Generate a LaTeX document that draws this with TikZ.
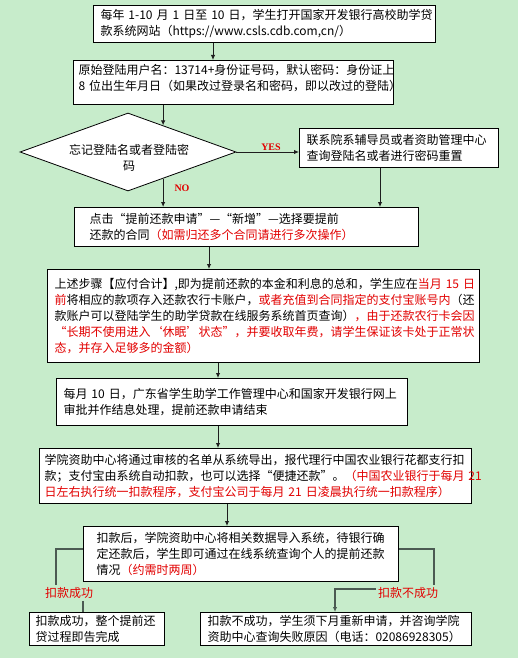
\documentclass[tikz,border=0pt]{standalone}
\usepackage{fontspec}
\setmainfont{Noto Sans CJK SC}
\newfontfamily\serifyes{Liberation Serif}
\usetikzlibrary{shapes.geometric,arrows.meta,calc}
\definecolor{bg}{RGB}{199,236,203}
\definecolor{rd}{RGB}{226,0,0}
\definecolor{lnA}{RGB}{30,30,30}
\definecolor{lnB}{RGB}{75,90,82}
\newcommand{\rt}[1]{\textcolor{rd}{#1}}
\begin{document}
\begin{tikzpicture}[x=1pt,y=-1pt,
  font=\fontsize{12}{16}\selectfont,
  box/.style={draw=black, line width=1pt, fill=white, anchor=north west, align=left, inner ysep=1pt},
  arr/.style={-{Latex[length=5pt,width=4.5pt]}, line width=0.9pt, draw=lnA},
  arrb/.style={-{Latex[length=5pt,width=4.5pt]}, line width=1.1pt, draw=lnB},
  cn/.style={line width=1.1pt, draw=lnB},
  lab/.style={text=rd, font=\fontsize{12}{14}\selectfont, inner sep=2pt},
  yn/.style={text=rd, font=\serifyes\bfseries\fontsize{10}{12}\selectfont, inner sep=1pt}]
\fill[bg] (0,0) rectangle (518,658);
\useasboundingbox (0,0) rectangle (518,658);

\node[box, minimum width=342pt, minimum height=37pt, inner xsep=7pt, text width=328pt] (b1) at (93,5)
 {\mbox{每年 1-10 月 1 日至 10 日，学生打开国家开发银行高校助学贷}\\\mbox{款系统网站（https://www.csls.cdb.com,cn/）}};

\node[box, minimum width=320pt, minimum height=44pt, inner xsep=5pt, inner ysep=0pt, text width=310pt] (b2) at (73,60)
 {\mbox{原始登陆用户名：13714+身份证号码，默认密码：身份证上}\\\mbox{8 位出生年月日（如果改过登录名和密码，即以改过的登陆）}\\[-6pt]\mbox{}};

\node[draw=black, line width=0.8pt, fill=white, diamond, aspect=2.77, minimum width=216pt, minimum height=78pt, inner sep=0pt] (dia) at (128,152) {};
\node[align=center, inner sep=0pt] (diat) at (129,158) {忘记登陆名或者登陆密\\码};

\node[box, minimum width=199pt, minimum height=39pt, inner xsep=7pt, text width=185pt] (bR) at (299,128)
 {\mbox{联系院系辅导员或者资助管理中心}\\\mbox{查询登陆名或者进行密码重置}};

\node[box, minimum width=344pt, minimum height=39pt, inner xsep=15pt, text width=314pt] (b3) at (74,207)
 {\mbox{点击“提前还款申请”—“新增”—选择要提前}\\\mbox{还款的合同\rt{（如需归还多个合同请进行多次操作）}}};

\node[box, minimum width=432pt, minimum height=93pt, inner xsep=7pt, text width=418pt] (b4) at (47,269)
 {\mbox{上述步骤【应付合计】,即为提前还款的本金和利息的总和，学生应在\rt{当月 15 日}}\\
  \mbox{\rt{前}将相应的款项存入还款农行卡账户，\rt{或者充值到合同指定的支付宝账号内}（还}\\
  \mbox{款账户可以登陆学生的助学贷款在线服务系统首页查询）\rt{，由于还款农行卡会因}}\\
  \mbox{\rt{“长期不使用进入‘休眠’状态”，并要收取年费，请学生保证该卡处于正常状}}\\
  \mbox{\rt{态，并存入足够多的金额）}}};

\node[box, minimum width=351pt, minimum height=47pt, inner xsep=7pt, text width=337pt] (b5) at (56,378)
 {\mbox{每月 10 日，广东省学生助学工作管理中心和国家开发银行网上}\\\mbox{审批并作结息处理，提前还款申请结束}};

\node[box, minimum width=432pt, minimum height=55pt, inner xsep=5pt, text width=422pt] (b6) at (39,448)
 {\mbox{学院资助中心将通过审核的名单从系统导出，报代理行中国农业银行花都支行扣}\\
  \mbox{款；支付宝由系统自动扣款，也可以选择“便捷还款”。\rt{（中国农业银行于每月 21}}\\
  \mbox{\rt{日左右执行统一扣款程序，支付宝公司于每月 21 日凌晨执行统一扣款程序）}}};

\node[box, minimum width=315pt, minimum height=55pt, inner xsep=13pt, text width=289pt] (b7) at (83,526)
 {\mbox{扣款后，学院资助中心将相关数据导入系统，待银行确}\\\mbox{定还款后，学生即可通过在线系统查询个人的提前还款}\\\mbox{情况\rt{（约需时两周）}}};

\node[box, minimum width=135pt, minimum height=33pt, inner xsep=6pt, text width=123pt] (b8) at (29,612)
 {\mbox{扣款成功，整个提前还}\\\mbox{贷过程即告完成}};

\node[box, minimum width=271pt, minimum height=33pt, inner xsep=7pt, text width=257pt] (b9) at (200,612)
 {\mbox{扣款不成功，学生须下月重新申请，并咨询学院}\\\mbox{资助中心查询失败原因（电话：02086928305）}};

% connectors
\coordinate (x1) at (213,0);
\draw[arr] (b1.south -| x1) -- (b2.north -| x1);
\coordinate (p1) at ($(dia.north)!0.324!(dia.east)$);
\draw[arr] (b2.south -| p1) -- (p1);
\draw[arr] (dia.east) -- (bR.west |- dia.east);
\node[yn] (yes) at (271,147) {YES};
\coordinate (p2) at ($(dia.south)!0.324!(dia.east)$);
\draw[arr] (p2) -- (b3.north -| p2);
\node[yn] (no) at (182,188) {NO};
\coordinate (x2) at (380,0);
\draw[arr] (bR.south -| x2) -- (b3.north -| x2);
\coordinate (x3) at (209,0);
\draw[arr] (b3.south -| x3) -- (b4.north -| x3);
\coordinate (x4) at (218,0);
\draw[arr] (b4.south -| x4) -- (b5.north -| x4);
\draw[arr] (b5.south -| x4) -- (b6.north -| x4);
\coordinate (x5) at (227,0);
\draw[arr] (b6.south -| x5) -- (b7.north -| x5);

% bottom branches
\node[lab] (ok) at (69,593) {扣款成功};
\coordinate (cl) at (56,549);
\draw[cn] (b7.west |- cl) -- (cl) -- (cl |- ok.north);
\coordinate (x6) at (83,0);
\draw[cn] (ok.south -| x6) -- (b8.north -| x6);

\node[lab] (bad) at (408,593) {扣款不成功};
\coordinate (cr) at (434,549);
\draw[cn] (b7.east |- cr) -- (cr) -- (cr |- bad.north);
\coordinate (cr2) at (335,589);
\draw[arrb] (bad.west |- cr2) -- (cr2) -- (b9.north -| cr2);
\end{tikzpicture}
\end{document}
